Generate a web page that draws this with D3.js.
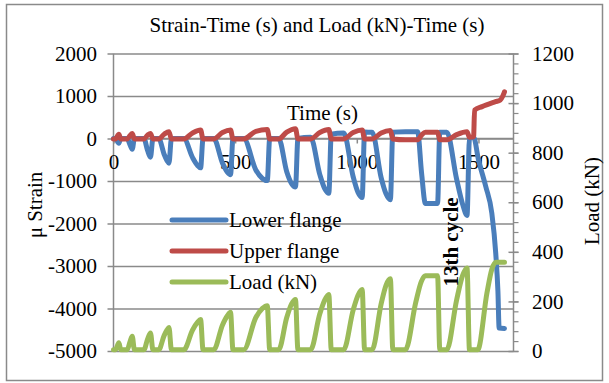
<!DOCTYPE html>
<html>
<head>
<meta charset="utf-8">
<script src="https://cdn.jsdelivr.net/npm/d3@7/dist/d3.min.js"></script>
<style>
  html, body { margin: 0; padding: 0; background: #fff; }
  svg { display: block; }
  text { font-family: "Liberation Serif", "Times New Roman", serif; font-size: 21px; fill: #000; }
</style>
</head>
<body>
<svg id="chart" width="609" height="383"></svg>
<script>
// Axis ticks
const strainTicks = [-5000, -4000, -3000, -2000, -1000, 0, 1000, 2000];
const loadTicks = [0, 200, 400, 600, 800, 1000, 1200];
const timeTicks = [0, 500, 1000, 1500];

// Lower flange strain (µ strain) against time (s)
const timeLower = [0, 8, 22, 30,
  56, 68, 77, 86,
  125, 140, 152, 162,
  186, 208, 220, 228, 238,
  289, 325, 345, 358, 368,
  412, 448, 468, 481, 491,
  535, 585, 612, 632, 642,
  679, 712, 732, 748, 758,
  810, 848, 868, 885, 895,
  946, 985, 1005, 1022, 1032,
  1063, 1100, 1120, 1138, 1148,
  1200, 1250, 1266, 1282, 1332, 1341,
  1370, 1410, 1435, 1453, 1463,
  1480, 1500, 1530, 1555, 1571, 1580, 1585, 1607];
const lowerFlange = [0, 0, -110, 0,
  0, -150, -250, 0,
  0, -280, -440, 0,
  0, -370, -520, -580, 0,
  0, -450, -630, -690, 0,
  0, -580, -790, -850, 0,
  0, -740, -940, -990, 0,
  0, -780, -1060, -1140, 0,
  30, -850, -1180, -1290, 100,
  130, -900, -1270, -1390, 150,
  150, -920, -1300, -1440, 150,
  160, 160, -800, -1530, -1530, 150,
  150, -950, -1550, -1810, 0,
  30, -500, -1130, -1760, -2700, -3600, -4460, -4470];

// Upper flange strain (µ strain) against time (s)
const timeUpper = [0, 8, 22, 30,
  56, 68, 77, 86,
  125, 140, 152, 162,
  186, 208, 228, 238,
  289, 325, 358, 368,
  412, 448, 481, 491,
  535, 585, 632, 642,
  679, 712, 748, 758,
  810, 848, 885, 895,
  946, 985, 1022, 1032,
  1063, 1100, 1138, 1148,
  1200, 1250, 1266, 1282, 1332, 1341,
  1370, 1410, 1453, 1463,
  1480, 1484, 1515, 1570, 1590, 1600, 1607];
const upperFlange = [-10, -10, 100, -10,
  -10, 70, 120, -10,
  -10, 80, 120, -10,
  -10, 100, 160, -10,
  -10, 130, 200, -10,
  -10, 140, 200, -10,
  -10, 170, 210, -10,
  -10, 150, 230, -10,
  -10, 140, 210, -10,
  -10, 140, 200, -10,
  -10, 130, 190, -10,
  -30, -30, 80, 150, 150, -30,
  -30, 90, 160, 30,
  40, 670, 750, 866, 906, 1000, 1100];

// Applied load (kN) against time (s)
const timeLoad = [0, 8, 22, 30,
  56, 68, 77, 86,
  125, 140, 152, 162,
  186, 208, 220, 228, 238,
  289, 325, 345, 358, 368,
  412, 448, 468, 481, 491,
  535, 585, 612, 632, 642,
  679, 712, 732, 748, 758,
  810, 848, 868, 885, 895,
  946, 985, 1005, 1022, 1032,
  1063, 1100, 1120, 1138, 1148,
  1200, 1242, 1265, 1282, 1332, 1341,
  1370, 1410, 1435, 1453, 1463,
  1497, 1535, 1555, 1572, 1607];
const load = [5, 5, 33, 5,
  5, 38, 60, 5,
  5, 48, 73, 5,
  5, 62, 85, 95, 5,
  5, 85, 115, 127, 5,
  5, 105, 142, 156, 5,
  5, 135, 172, 183, 5,
  5, 135, 190, 208, 5,
  5, 150, 205, 228, 5,
  5, 165, 225, 248, 5,
  5, 190, 265, 291, 5,
  5, 195, 280, 304, 304, 5,
  5, 205, 305, 335, 5,
  5, 235, 330, 358, 358];

const legendItems = [
  { name: "Lower flange", color: "#4a7ebb" },
  { name: "Upper flange", color: "#be4b48" },
  { name: "Load (kN)", color: "#9bbb59" }
];

const svg = d3.select("#chart");
const gridColor = "#8a8a8a";
const plain = d => String(d);

// Strip d3's default axis font so the stylesheet font applies
const clearFont = g => g.attr("font-family", null).attr("font-size", null);

// Chart frame
svg.append("rect")
  .attr("x", 6.5).attr("y", 4.5).attr("width", 596).attr("height", 376)
  .attr("fill", "#fff").attr("stroke", gridColor).attr("stroke-width", 1.5);

// Scales
const x = d3.scaleLinear().domain([0, 1644]).range([113.5, 513.5]);
const yL = d3.scaleLinear().domain([-5000, 2000]).range([351, 53.5]);
const yR = d3.scaleLinear().domain([0, 1200]).range([351, 53.5]);

// Horizontal gridlines
svg.append("g")
  .attr("transform", `translate(${x.range()[0]},0)`)
  .call(d3.axisLeft(yL).tickValues(strainTicks).tickSize(-(x.range()[1] - x.range()[0])).tickFormat(""))
  .call(g => g.select(".domain").remove())
  .call(g => g.selectAll("line").attr("stroke", gridColor).attr("stroke-width", 1.5));

// Left axis
svg.append("g")
  .attr("transform", `translate(${x.range()[0]},0)`)
  .call(d3.axisLeft(yL).tickValues(strainTicks).tickSize(6).tickPadding(10.5).tickFormat(plain))
  .call(clearFont)
  .call(g => g.select(".domain").attr("stroke", gridColor).attr("stroke-width", 1.5).attr("d", `M0,${yL(-5000)}V${yL(2000)}`))
  .call(g => g.selectAll("line").attr("stroke", gridColor).attr("stroke-width", 1.5));

// Right axis: minor ticks, major ticks, labels
svg.append("g")
  .attr("transform", `translate(${x.range()[1]},0)`)
  .call(d3.axisRight(yR).tickValues(d3.range(0, 1201, 40)).tickSize(5).tickFormat(""))
  .call(g => g.select(".domain").attr("stroke", gridColor).attr("stroke-width", 1.5).attr("d", `M0,${yR(0)}V${yR(1200)}`))
  .call(g => g.selectAll("line").attr("stroke", gridColor).attr("stroke-width", 1.2));
svg.append("g")
  .attr("transform", `translate(${x.range()[1]},0)`)
  .call(d3.axisRight(yR).tickValues(loadTicks).tickSize(5).tickPadding(13.5).tickFormat(plain))
  .call(clearFont)
  .call(g => g.select(".domain").remove())
  .call(g => g.selectAll("line").attr("x1", -5).attr("stroke", gridColor).attr("stroke-width", 1.5));

// Time axis crossing at zero strain
svg.append("g")
  .attr("transform", `translate(0,${yL(0)})`)
  .call(d3.axisBottom(x).tickValues(timeTicks).tickSize(5).tickPadding(10.5).tickFormat(plain))
  .call(clearFont)
  .call(g => g.select(".domain").attr("stroke", gridColor).attr("stroke-width", 1.5).attr("d", `M${x.range()[0]},0H${x.range()[1]}`))
  .call(g => g.selectAll("line").attr("stroke", gridColor).attr("stroke-width", 1.5));

// Series lines
const lineOf = (ts, vs, yScale) => d3.line()
  .x((d, i) => x(ts[i]))
  .y(d => yScale(d))
  .curve(d3.curveMonotoneX)(vs);

const series = [
  { t: timeLower, v: lowerFlange, y: yL, color: legendItems[0].color },
  { t: timeUpper, v: upperFlange, y: yL, color: legendItems[1].color },
  { t: timeLoad, v: load, y: yR, color: legendItems[2].color }
];
svg.append("g").selectAll("path")
  .data(series)
  .join("path")
  .attr("d", s => lineOf(s.t, s.v, s.y))
  .attr("fill", "none")
  .attr("stroke", s => s.color)
  .attr("stroke-width", 5)
  .attr("stroke-linecap", "round")
  .attr("stroke-linejoin", "round");

// Title and axis titles
svg.append("text")
  .attr("x", 317).attr("y", 32).attr("text-anchor", "middle")
  .text("Strain-Time (s) and Load (kN)-Time (s)");

svg.append("text")
  .attr("x", 287).attr("y", 120)
  .text("Time (s)");

svg.append("text")
  .attr("transform", "translate(42,205) rotate(-90)")
  .attr("text-anchor", "middle")
  .text("μ Strain");

svg.append("text")
  .attr("transform", "translate(599,201) rotate(-90)")
  .attr("text-anchor", "middle")
  .text("Load (kN)");

svg.append("text")
  .attr("transform", "translate(458,242) rotate(-90)")
  .attr("text-anchor", "middle")
  .style("font-weight", "bold")
  .text("13th cycle");

// Legend
const legend = svg.append("g").selectAll("g")
  .data(legendItems)
  .join("g")
  .attr("transform", (d, i) => `translate(172,${220 + i * 31})`);
legend.append("line")
  .attr("x1", 0).attr("x2", 54).attr("y1", 0).attr("y2", 0)
  .attr("stroke", d => d.color).attr("stroke-width", 5).attr("stroke-linecap", "round");
legend.append("text")
  .attr("x", 57).attr("y", 7)
  .text(d => d.name);
</script>
</body>
</html>
